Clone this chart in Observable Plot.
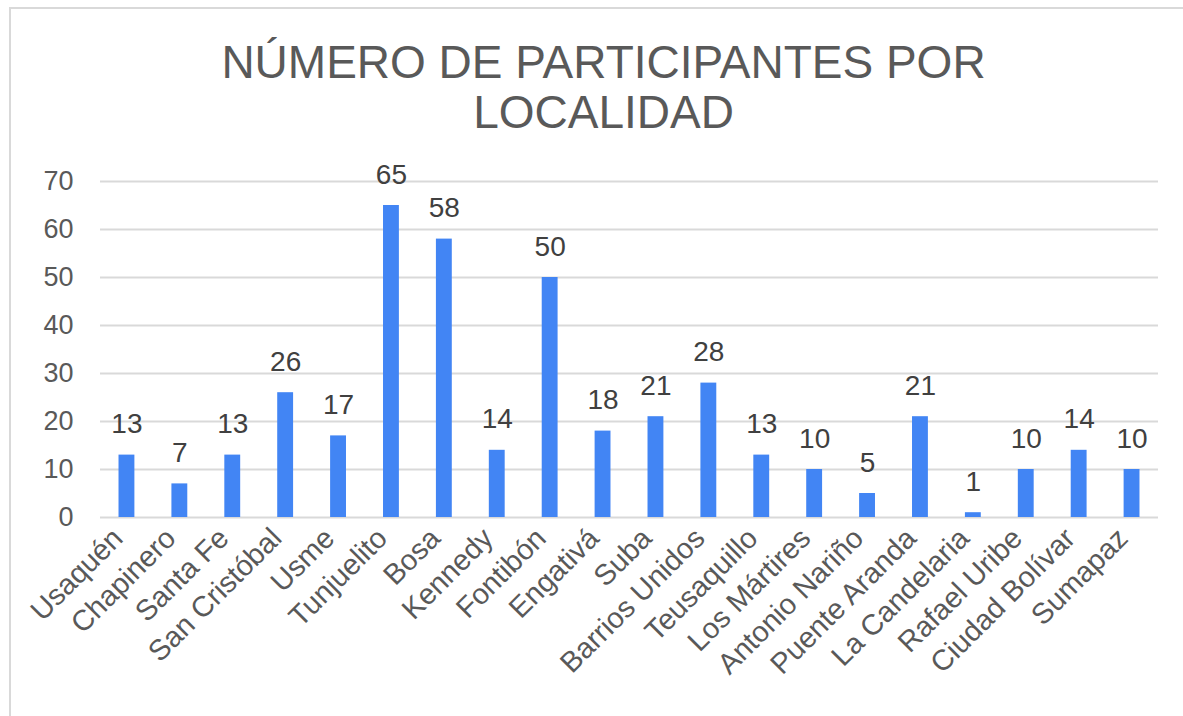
<!DOCTYPE html>
<html>
<head>
<meta charset="utf-8">
<script src="https://cdn.jsdelivr.net/npm/d3@7"></script>
<script src="https://cdn.jsdelivr.net/npm/@observablehq/plot@0.6"></script>
<style>
  body { margin: 0; background: #fff; font-family: "Liberation Sans", Arial, sans-serif; }
  #wrap { position: relative; width: 1183px; height: 716px; overflow: hidden; }
  #frame { position: absolute; left: 9px; top: 7px; width: 1200px; height: 800px;
           border-top: 2px solid #d9d9d9; border-left: 2px solid #d9d9d9; box-sizing: border-box; }
  #title { position: relative; height: 150px; box-sizing: border-box; padding-top: 37px; padding-left: 24px;
           text-align: center; font-size: 46px; line-height: 50px; color: #595959; }
  #chart { position: relative; }
</style>
</head>
<body>
<div id="wrap">
  <div id="frame"></div>
  <div id="title">NÚMERO DE PARTICIPANTES POR<br>LOCALIDAD</div>
  <div id="chart"></div>
</div>
<script>
const localidades = ["Usaquén","Chapinero","Santa Fe","San Cristóbal","Usme","Tunjuelito","Bosa","Kennedy","Fontibón","Engativá","Suba","Barrios Unidos","Teusaquillo","Los Mártires","Antonio Nariño","Puente Aranda","La Candelaria","Rafael Uribe","Ciudad Bolívar","Sumapaz"];
const participantes = [13,7,13,26,17,65,58,14,50,18,21,28,13,10,5,21,1,10,14,10];
const yTicks = [0,10,20,30,40,50,60,70];

const data = localidades.map((l, i) => ({localidad: l, n: participantes[i]}));

const chart = Plot.plot({
  width: 1183,
  height: 566,
  marginTop: 31,
  marginBottom: 199,
  marginLeft: 100,
  marginRight: 25,
  style: {fontFamily: "Liberation Sans, Arial, sans-serif", fontSize: "26px", color: "#595959", background: "transparent"},
  x: {domain: localidades, paddingInner: 0.7, paddingOuter: 0.35, round: false, label: null},
  y: {domain: [0, 70], label: null},
  marks: [
    Plot.ruleY(yTicks, {stroke: "#d9d9d9", strokeWidth: 2}),
    Plot.barY(data, {x: "localidad", y: "n", fill: "#4285f4"}),
    Plot.text(data, {x: "localidad", y: "n", text: d => String(d.n), lineAnchor: "bottom", dy: -22, fontSize: 28, fill: "#404040"}),
    Plot.axisY({ticks: yTicks, tickSize: 0, tickPadding: 27, fontSize: 27, fill: "#595959", label: null}),
    Plot.axisX({tickSize: 0, tickRotate: -45, tickPadding: 16, fontSize: 29, fill: "#595959", label: null, dx: -9})
  ]
});
document.getElementById("chart").appendChild(chart);
</script>
</body>
</html>
